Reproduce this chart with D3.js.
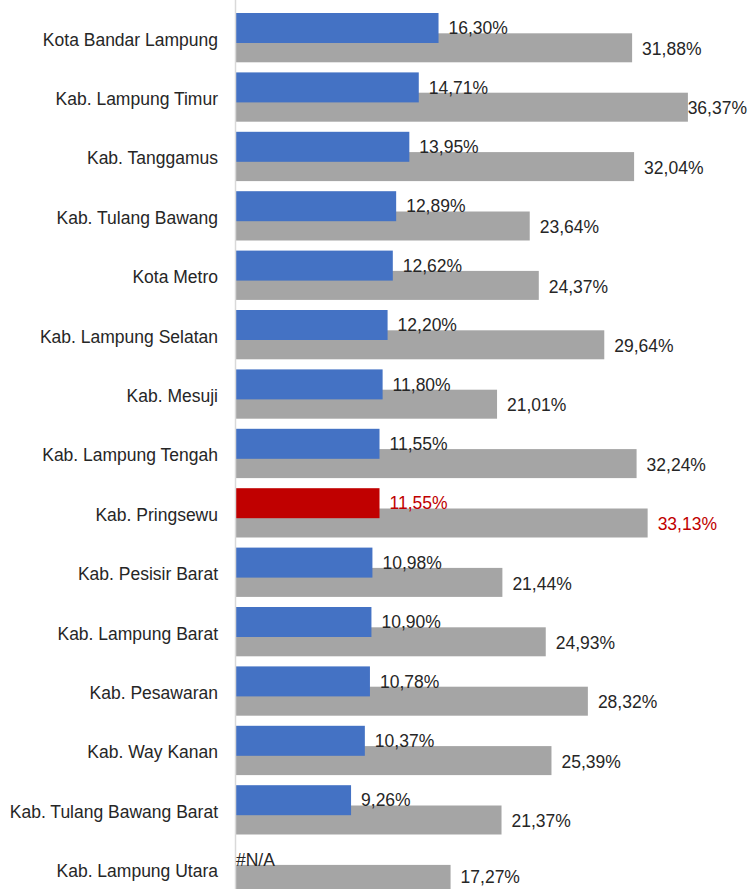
<!DOCTYPE html>
<html>
<head>
<meta charset="utf-8">
<script src="https://cdn.jsdelivr.net/npm/d3@7"></script>
<style>
  html, body { margin: 0; padding: 0; background: #ffffff; }
  svg { display: block; font-family: "Liberation Sans", Arial, sans-serif; }
</style>
</head>
<body>
<svg id="chart" width="748" height="889"></svg>
<script>
// Regencies / cities of Lampung
const categories = [
  "Kota Bandar Lampung", "Kab. Lampung Timur", "Kab. Tanggamus", "Kab. Tulang Bawang",
  "Kota Metro", "Kab. Lampung Selatan", "Kab. Mesuji", "Kab. Lampung Tengah",
  "Kab. Pringsewu", "Kab. Pesisir Barat", "Kab. Lampung Barat", "Kab. Pesawaran",
  "Kab. Way Kanan", "Kab. Tulang Bawang Barat", "Kab. Lampung Utara"
];
// First series (blue), percent; null = not available
const seriesA = [16.30, 14.71, 13.95, 12.89, 12.62, 12.20, 11.80, 11.55, 11.55, 10.98, 10.90, 10.78, 10.37, 9.26, null];
// Second series (gray), percent
const seriesB = [31.88, 36.37, 32.04, 23.64, 24.37, 29.64, 21.01, 32.24, 33.13, 21.44, 24.93, 28.32, 25.39, 21.37, 17.27];
const highlighted = "Kab. Pringsewu";

const W = 748, H = 889;
const svg = d3.select("#chart");

const x = d3.scaleLinear().domain([0, 40]).range([236, 733]);
const y = d3.scaleBand().domain(categories).range([7.8, 898.8]).padding(0);

const BLUE = "#4472C4", GRAY = "#A5A5A5", RED = "#C00000", TEXT = "#262626";
const offA = 5.2, hA = 30, offB = 25.5, hB = 29;

const fmt = v => v.toFixed(2).replace(".", ",") + "%";
const rows = categories.map((c, i) => ({ c, a: seriesA[i], b: seriesB[i] }));

// Gray bars sit behind the blue ones
svg.append("g").selectAll("rect").data(rows).join("rect")
  .attr("x", x(0))
  .attr("y", d => y(d.c) + offB)
  .attr("width", d => x(d.b) - x(0))
  .attr("height", hB)
  .attr("fill", GRAY);

svg.append("g").selectAll("rect").data(rows.filter(d => d.a != null)).join("rect")
  .attr("x", x(0))
  .attr("y", d => y(d.c) + offA)
  .attr("width", d => x(d.a) - x(0))
  .attr("height", hA)
  .attr("fill", d => d.c === highlighted ? RED : BLUE);

// Category axis line
svg.append("line")
  .attr("x1", 235.5).attr("x2", 235.5)
  .attr("y1", 0).attr("y2", H)
  .attr("stroke", "#d9d9d9").attr("stroke-width", 1.5);

// Category labels
svg.append("g").selectAll("text").data(categories).join("text")
  .attr("x", 218)
  .attr("y", d => y(d) + y.bandwidth() / 2 + 2)
  .attr("dy", "0.35em")
  .attr("text-anchor", "end")
  .attr("font-size", 17.5)
  .attr("fill", TEXT)
  .text(d => d);

// Value labels for the blue series
svg.append("g").selectAll("text").data(rows).join("text")
  .attr("x", d => d.a == null ? x(0) : x(d.a) + 10)
  .attr("y", d => y(d.c) + offA + hA / 2)
  .attr("dy", "0.35em")
  .attr("font-size", 17.5)
  .attr("fill", d => d.c === highlighted ? RED : TEXT)
  .text(d => d.a == null ? "#N/A" : fmt(d.a));

// Value labels for the gray series, kept inside the right and bottom edges
svg.append("g").selectAll("text").data(rows).join("text")
  .attr("y", d => Math.min(y(d.c) + offB + hB / 2 + 1, H - 12.5))
  .attr("dy", "0.35em")
  .attr("font-size", 17.5)
  .attr("fill", d => d.c === highlighted ? RED : TEXT)
  .text(d => fmt(d.b))
  .each(function(d) {
    const w = this.getComputedTextLength();
    let px = x(d.b) + 10;
    if (px + w > W - 1) px = W - 1 - w;
    d3.select(this).attr("x", px);
  });
</script>
</body>
</html>
